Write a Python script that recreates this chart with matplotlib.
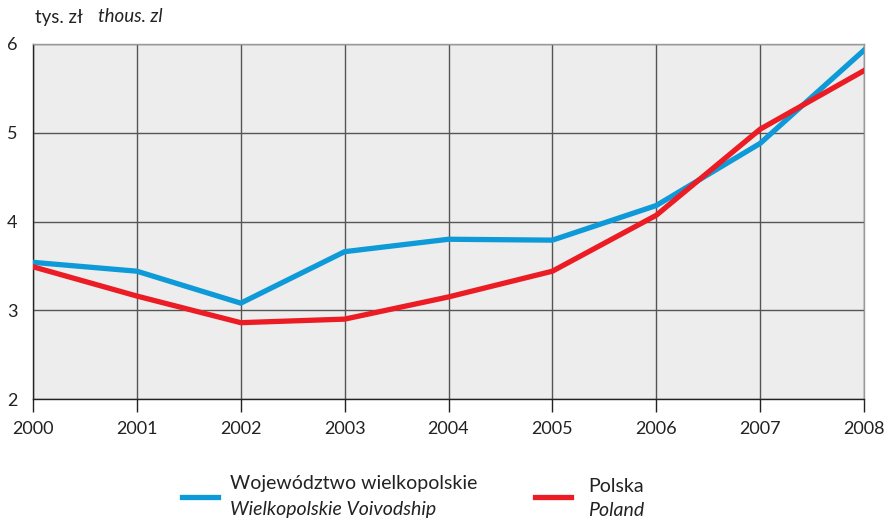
import matplotlib
matplotlib.use("Agg")
import matplotlib.pyplot as plt
from matplotlib.lines import Line2D

plt.rcParams['font.family'] = ['Lato', 'DejaVu Sans']

years = [2000, 2001, 2002, 2003, 2004, 2005, 2006, 2007, 2008]
wielkopolskie = [3.54, 3.44, 3.08, 3.66, 3.80, 3.79, 4.18, 4.88, 5.93]
polska = [3.49, 3.16, 2.86, 2.90, 3.15, 3.44, 4.07, 5.04, 5.70]
yticks = [2, 3, 4, 5, 6]

blue = '#0E9AD8'
red = '#EC1C24'
txt = '#222222'

fig = plt.figure(figsize=(8.89, 5.2), dpi=100)
ax = fig.add_axes([33/889, 1-399/520, (864-33)/889, (399-44)/520])
ax.set_facecolor('#EDEDED')
ax.set_xlim(2000, 2008)
ax.set_ylim(2, 6)
ax.set_xticks(years)
ax.set_yticks(yticks)
ax.grid(True, color='#555555', linewidth=1.0)
ax.set_axisbelow(True)

ax.plot(years, wielkopolskie, color=blue, linewidth=3.8, zorder=3)
ax.plot(years, polska, color=red, linewidth=3.8, zorder=3)

for s in ['top', 'right']:
    ax.spines[s].set_color('#999999')
    ax.spines[s].set_linewidth(1.0)
for s in ['left', 'bottom']:
    ax.spines[s].set_color(txt)
    ax.spines[s].set_linewidth(1.0)

ax.tick_params(axis='x', direction='out', length=9, width=1, color=txt,
               labelsize=13, pad=7, labelcolor=txt)
ax.tick_params(axis='y', length=0, labelsize=13, pad=11, labelcolor=txt)

fig.text(35/889, 1-17/520, 'tys. zł', fontsize=13.5, color=txt, va='center', ha='left')
fig.text(98/889, 1-17/520, 'thous. zl', fontsize=13.5, color=txt, va='center', ha='left', style='italic')

# legend
fig.add_artist(Line2D([182/889, 218/889], [1-497/520, 1-497/520], color=blue, linewidth=3.8))
fig.text(230/889, 1-484/520, 'Województwo wielkopolskie', fontsize=14, color=txt, va='center')
fig.text(230/889, 1-509/520, 'Wielkopolskie Voivodship', fontsize=14, color=txt, va='center', style='italic')
fig.add_artist(Line2D([535/889, 571/889], [1-497/520, 1-497/520], color=red, linewidth=3.8))
fig.text(588/889, 1-486/520, 'Polska', fontsize=14, color=txt, va='center')
fig.text(588/889, 1-510/520, 'Poland', fontsize=14, color=txt, va='center', style='italic')

fig.savefig('out.png', dpi=100)
